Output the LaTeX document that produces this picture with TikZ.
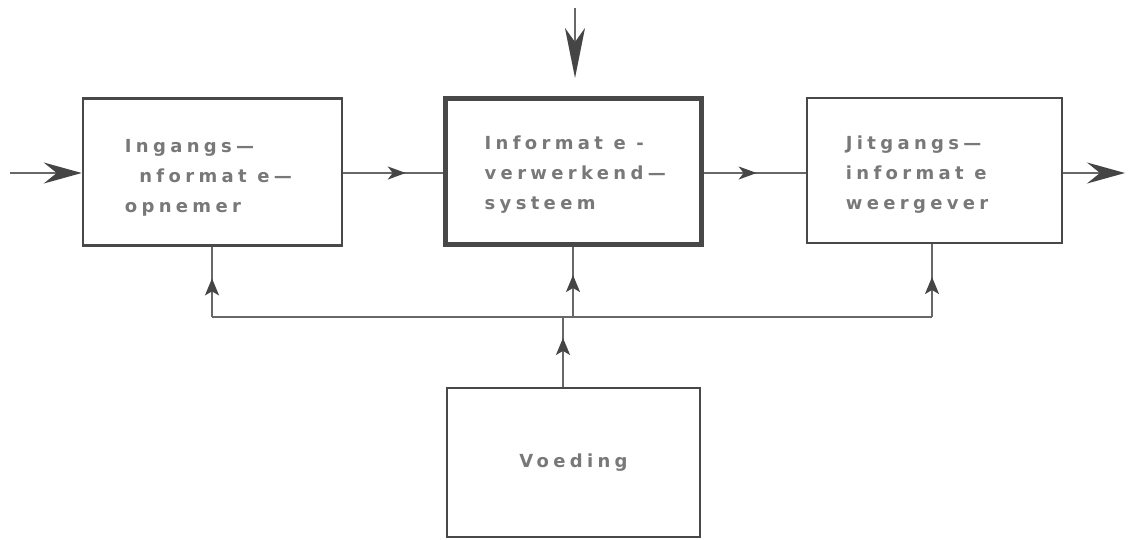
\documentclass[tikz,border=0pt]{standalone}
\usepackage{fontspec}
\setmainfont{DejaVu Sans}[LetterSpace=24]
\usetikzlibrary{arrows.meta,decorations.markings}
\definecolor{boxcol}{HTML}{484848}
\definecolor{linecol}{HTML}{686868}
\definecolor{headcol}{HTML}{454545}
\definecolor{txtcol}{HTML}{787878}
\tikzset{
  blk/.style={draw=boxcol, line width=2.5pt, minimum width=#1, inner sep=0pt},
  lbl/.style={text=txtcol, font=\bfseries\fontsize{18}{30}\selectfont, align=left, inner sep=0pt, anchor=west},
  conn/.style={draw=linecol, line width=2pt},
  midarrow/.style={postaction={decorate}, decoration={markings,
      mark=at position #1 with {\arrow[headcol]{Stealth[length=18pt,width=13pt,inset=5pt]}}}},
  smallmid/.style={postaction={decorate}, decoration={markings,
      mark=at position #1 with {\arrow[headcol]{Stealth[length=17pt,width=14pt,inset=4pt]}}}},
  bigend/.style={-{Stealth[length=38pt,width=21pt,inset=13pt,color=headcol]}},
}
\begin{document}
\begin{tikzpicture}[x=1pt,y=-1pt]
\useasboundingbox (0,0) rectangle (1131,539);
% blocks
\node[blk=259pt, minimum height=147pt] (b1) at (212.5,172) {};
\node[blk=256pt, minimum height=146pt, line width=5pt] (b2) at (573,171.5) {};
\node[blk=255pt, minimum height=145pt] (b3) at (934.5,170.5) {};
\node[blk=253pt, minimum height=149pt] (b4) at (573.5,462.5) {};
% labels
\node[lbl] (t1) at ([xshift=43pt,yshift=-6pt]b1.west) {Ingangs—\\\hspace*{0.8em}nformat e—\\opnemer};
\node[lbl] (t2) at ([xshift=42pt,yshift=-3pt]b2.west) {Informat e -\\verwerkend—\\systeem};
\node[lbl] (t3) at ([xshift=40pt,yshift=-4pt]b3.west) {Jitgangs—\\informat e\\weergever};
\node[text=txtcol, font=\bfseries\fontsize{18}{30}\selectfont, inner sep=0pt] (t4) at (b4.center) {Voeding};
% coordinates
\coordinate (in) at (10,173);
\coordinate (out) at (1125,173);
\coordinate (topS) at (575,8);
\coordinate (topE) at (575,78);
\coordinate (bus1) at (212,317);
\coordinate (bus2) at (573,317);
\coordinate (bus3) at (932,317);
\coordinate (busV) at (563,317);
% horizontal chain
\draw[conn, bigend] (in) -- (b1.west |- in);
\draw[conn, midarrow=0.63] (b1.east |- in) -- (b2.west |- in);
\draw[conn, midarrow=0.52] (b2.east |- in) -- (b3.west |- in);
\draw[conn, bigend] (b3.east |- in) -- (out);
% top input
\draw[conn, -{Stealth[length=50pt,width=20pt,inset=14pt,color=headcol]}] (topS) -- (topE);
% bus
\draw[conn] (bus1) -- (bus3);
\draw[conn, smallmid=0.55] (bus1) -- (bus1 |- b1.south);
\draw[conn, smallmid=0.6] (bus2) -- (bus2 |- b2.south);
\draw[conn, smallmid=0.55] (bus3) -- (bus3 |- b3.south);
\draw[conn, smallmid=0.7] (busV |- b4.north) -- (busV);
\end{tikzpicture}
\end{document}
